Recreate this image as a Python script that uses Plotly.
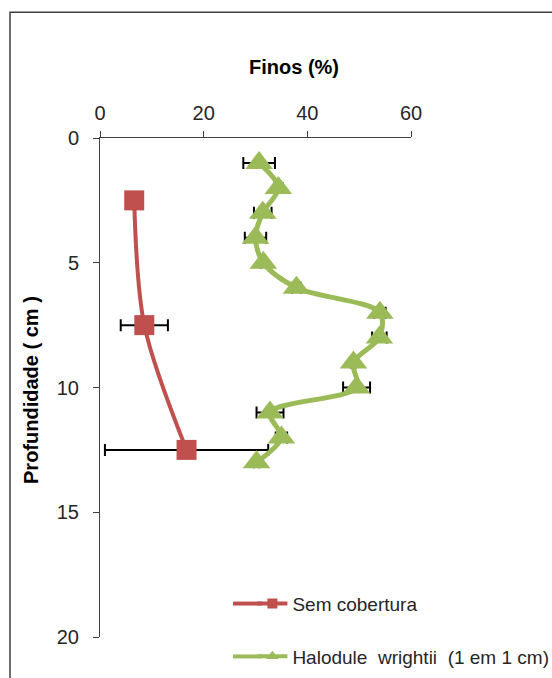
import plotly.graph_objects as go

# Fine-sediment content (%) by depth (cm)
sem_depth = [2.5, 7.5, 12.5]
sem_finos = [6.6, 8.55, 16.7]
sem_err = [0.9, 4.55, 15.75]

hal_depth = [1, 2, 3, 4, 5, 6, 7, 8, 9, 10, 11, 12, 13]
hal_finos = [30.7, 34.4, 31.4, 30.0, 31.5, 37.9, 54.0, 53.9, 48.9, 49.5, 32.8, 35.0, 30.2]
hal_err = [3.05, 0.8, 1.7, 2.06, 0.5, 0.8, 1.1, 1.4, 0.5, 2.6, 2.6, 1.1, 0.5]

x_ticks = [0, 20, 40, 60]
y_ticks = [0, 5, 10, 15, 20]

RED = "#C0504D"
GREEN = "#9BBB59"
FONT = "Liberation Sans, Arial, sans-serif"

# plot-area geometry in pixels, used to place paper-referenced decorations
L, R, T, B = 100, 411, 137.5, 637.5
W, H = R - L, B - T


def px_x(p):
    return (p - L) / W


def px_y(p):
    return (B - p) / H


fig = go.Figure()

fig.add_trace(go.Scatter(
    x=sem_finos, y=sem_depth, mode="lines+markers", showlegend=False,
    line=dict(color=RED, width=4, shape="spline", smoothing=0.9),
    marker=dict(symbol="square", size=20, color=RED),
    error_x=dict(type="data", array=sem_err, color="black", thickness=2, width=6),
))
fig.add_trace(go.Scatter(
    x=hal_finos, y=hal_depth, mode="lines+markers", showlegend=False,
    line=dict(color=GREEN, width=5, shape="spline", smoothing=0.9),
    marker=dict(symbol="triangle-up", size=24, color=GREEN),
    error_x=dict(type="data", array=hal_err, color="black", thickness=2, width=6),
))

# Legend entries (smaller sample markers)
fig.add_trace(go.Scatter(
    x=[None], y=[None], mode="lines+markers", name="Sem cobertura",
    line=dict(color=RED, width=4), marker=dict(symbol="square", size=10, color=RED),
    legend="legend",
))
fig.add_trace(go.Scatter(
    x=[None], y=[None], mode="lines+markers", name="Halodule  wrightii  (1 em 1 cm)",
    line=dict(color=GREEN, width=4), marker=dict(symbol="triangle-up", size=11, color=GREEN),
    legend="legend2",
))

axis_common = dict(
    showgrid=False, zeroline=False, showline=True, linecolor="#404040", linewidth=1,
    ticks="outside", ticklen=6, tickcolor="#404040", tickwidth=1,
    tickfont=dict(family=FONT, size=20, color="#262626"),
    automargin=False,
)

fig.update_xaxes(
    range=[0, 60], side="top", tickvals=x_ticks, ticklabelstandoff=3, **axis_common
)
fig.update_yaxes(
    range=[20, 0], tickvals=y_ticks, ticklabelstandoff=10, **axis_common
)

legend_font = dict(family=FONT, size=19, color="#262626")

fig.update_layout(
    width=552, height=678,
    margin=dict(l=L, r=552 - R, t=T, b=678 - B, autoexpand=False),
    plot_bgcolor="white", paper_bgcolor="white",
    font=dict(family=FONT, color="#262626"),
    legend=dict(x=0.49, y=px_y(604), xanchor="left", yanchor="middle",
                font=legend_font, bgcolor="rgba(0,0,0,0)"),
    legend2=dict(x=0.49, y=px_y(657), xanchor="left", yanchor="middle",
                 font=legend_font, bgcolor="rgba(0,0,0,0)"),
    annotations=[
        dict(text="<b>Finos (%)</b>", xref="paper", yref="paper",
             x=px_x(294), y=px_y(66), xanchor="center", yanchor="middle",
             showarrow=False, font=dict(family=FONT, size=20, color="black")),
        dict(text="<b>Profundidade ( cm )</b>", xref="paper", yref="paper",
             x=px_x(31), y=px_y(390), xanchor="center", yanchor="middle",
             textangle=-90, showarrow=False, font=dict(family=FONT, size=20, color="black")),
    ],
    shapes=[
        # chart frame
        dict(type="rect", xref="paper", yref="paper",
             x0=px_x(10), x1=px_x(620), y0=px_y(740), y1=px_y(11.5),
             line=dict(color="#404040", width=1.5), fillcolor="rgba(0,0,0,0)", layer="below"),
        # longer legend sample lines
        dict(type="line", xref="paper", yref="paper",
             x0=px_x(233), x1=px_x(262), y0=px_y(604), y1=px_y(604),
             line=dict(color=RED, width=4)),
        dict(type="line", xref="paper", yref="paper",
             x0=px_x(233), x1=px_x(262), y0=px_y(657), y1=px_y(657),
             line=dict(color=GREEN, width=4)),
    ],
)

fig.write_html("out.html")
